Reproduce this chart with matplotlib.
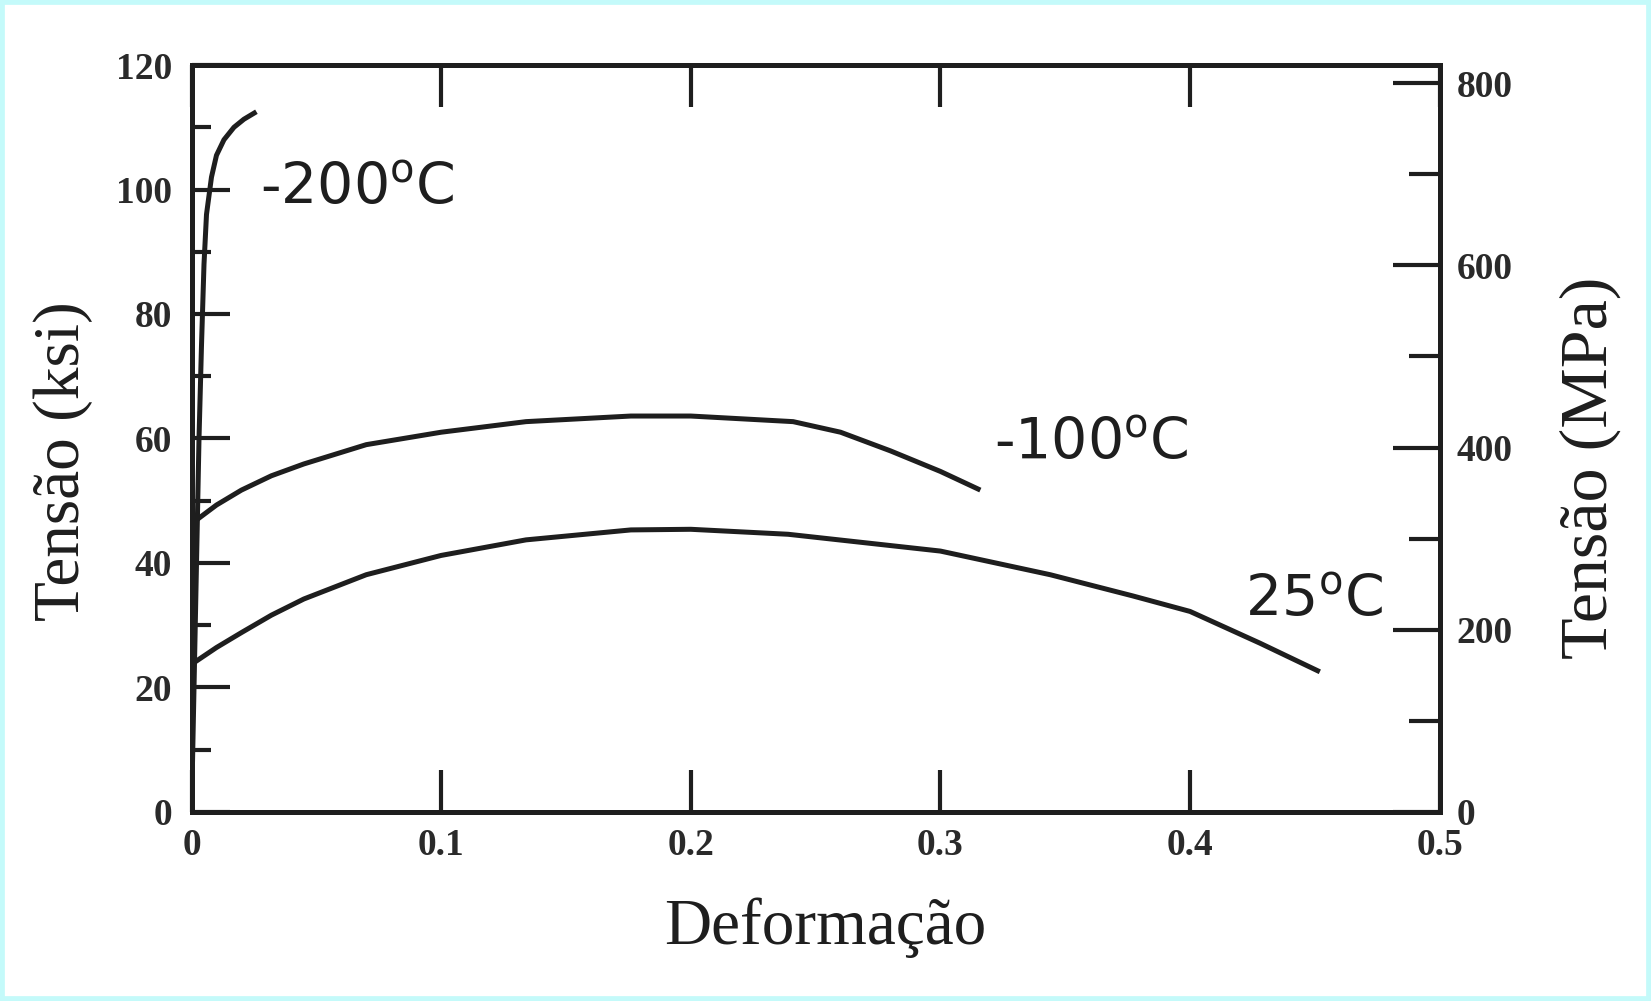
import matplotlib
matplotlib.use("Agg")
import matplotlib.pyplot as plt
from matplotlib.patches import Rectangle

# curves: strain (-) vs stress (ksi)
eps_200 = [0.0, 0.001, 0.002, 0.003, 0.004, 0.005, 0.006, 0.008, 0.010, 0.013, 0.017, 0.021, 0.026]
sig_200 = [0.0, 20.0, 40.0, 60.0, 75.0, 88.0, 96.0, 102.0, 105.5, 108.0, 110.0, 111.3, 112.5]

eps_100 = [0.0, 0.010, 0.020, 0.032, 0.045, 0.070, 0.100, 0.134, 0.176, 0.200, 0.241, 0.260, 0.280, 0.300, 0.316]
sig_100 = [46.3, 49.3, 51.7, 54.0, 55.9, 59.0, 61.0, 62.7, 63.6, 63.6, 62.7, 61.0, 58.0, 54.7, 51.7]

eps_25 = [0.0, 0.010, 0.020, 0.032, 0.045, 0.070, 0.100, 0.134, 0.176, 0.200, 0.239, 0.300, 0.344, 0.377, 0.400, 0.428, 0.452]
sig_25 = [23.7, 26.4, 28.8, 31.6, 34.2, 38.1, 41.2, 43.7, 45.3, 45.4, 44.6, 41.9, 38.1, 34.7, 32.2, 27.1, 22.5]

curve_labels = ["-200$^{\\mathrm{o}}$C", "-100$^{\\mathrm{o}}$C", "25$^{\\mathrm{o}}$C"]
label_xy = [(0.0275, 97.5), (0.3216, 56.5), (0.422, 31.4)]

ksi_ticks = [0, 20, 40, 60, 80, 100, 120]
mpa_ticks = [0, 200, 400, 600, 800]
mpa_top = 820  # scale of the right axis as drawn in the scan
strain_ticks = [0, 0.1, 0.2, 0.3, 0.4, 0.5]
strain_ticklabels = ["0", "0.1", "0.2", "0.3", "0.4", "0.5"]

ink = "#1e1e1e"
serif = "Liberation Serif"

fig = plt.figure(figsize=(16.51, 10.01), dpi=100)
fig.patches.append(Rectangle((0, 0), 1, 1, transform=fig.transFigure, fill=False,
                             edgecolor="#c4fafa", linewidth=7))
ax = fig.add_axes([0.116, 0.189, 0.756, 0.746])

for e, s in [(eps_200, sig_200), (eps_100, sig_100), (eps_25, sig_25)]:
    ax.plot(e, s, color=ink, lw=3.6, solid_capstyle="butt")

for txt, (x, y) in zip(curve_labels, label_xy):
    ax.text(x, y, txt, fontsize=41, color=ink, ha="left", va="baseline")

ax.set_xlim(0, 0.5)
ax.set_ylim(0, 120)
ax.set_xticks(strain_ticks)
ax.set_xticklabels(strain_ticklabels)
ax.set_yticks(ksi_ticks)
ax.set_yticks(range(10, 120, 20), minor=True)

for sp in ax.spines.values():
    sp.set_linewidth(3.6)
    sp.set_color(ink)

ax.tick_params(axis="y", which="major", direction="in", length=27, width=3, color=ink,
               pad=14, right=False)
ax.tick_params(axis="y", which="minor", direction="in", length=14, width=3, color=ink, right=False)
ax.tick_params(axis="x", which="major", direction="in", length=30, width=3, color=ink,
               top=True, pad=12)

for lab in ax.get_xticklabels() + ax.get_yticklabels():
    lab.set_fontfamily(serif)
    lab.set_fontweight("bold")
    lab.set_fontsize(27)
    lab.set_color("#2a2a2a")

ax.set_xlabel("Deformação", fontsize=47, family=serif, color=ink)
ax.xaxis.label.set_va("center")
ax.xaxis.set_label_coords(0.508, -0.155)
ax.set_ylabel("Tensão (ksi)", fontsize=47, family=serif, color=ink)
ax.yaxis.label.set_va("center")
ax.yaxis.set_label_coords(-0.103, 0.47)

# secondary axis in MPa
ax2 = ax.twinx()
ax2.set_ylim(0, mpa_top)
ax2.set_yticks(mpa_ticks)
ax2.set_yticks(range(100, 800, 200), minor=True)
ax2.tick_params(axis="y", which="major", direction="in", length=34, width=3, color=ink, pad=12)
ax2.tick_params(axis="y", which="minor", direction="in", length=22, width=3, color=ink)
for sp in ax2.spines.values():
    sp.set_linewidth(3.6)
    sp.set_color(ink)
for lab in ax2.get_yticklabels():
    lab.set_fontfamily(serif)
    lab.set_fontweight("bold")
    lab.set_fontsize(27)
    lab.set_color("#2a2a2a")
ax2.set_ylabel("Tensão (MPa)", fontsize=49, family=serif, color=ink, rotation=90)
ax2.yaxis.label.set_va("center")
ax2.yaxis.set_label_coords(1.1206, 0.46)

fig.savefig("out.png", dpi=100)
